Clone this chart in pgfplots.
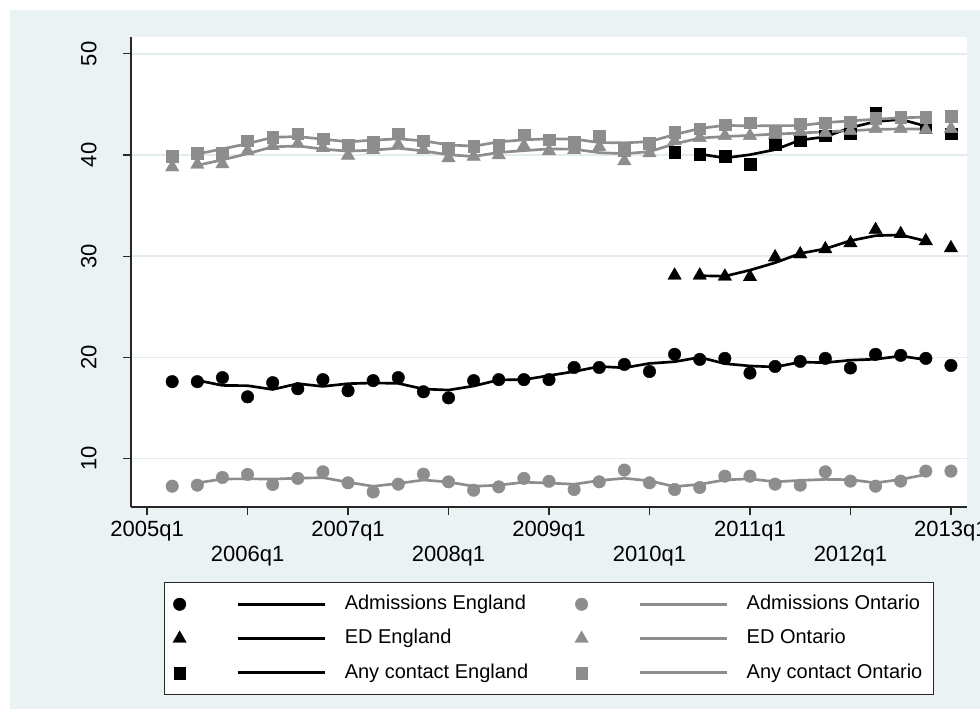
\documentclass[border=0pt]{standalone}
\usepackage{pgfplots}
\pgfplotsset{compat=1.18}
\usepackage{fontspec}
\setmainfont{Liberation Sans}
\definecolor{bgc}{RGB}{234,242,243}
\definecolor{gridc}{RGB}{226,237,239}
\definecolor{sgray}{RGB}{141,141,141}
\definecolor{axc}{RGB}{40,40,40}

% marker at 0, line 58px..145px to its right (1px = 0.75pt)
\pgfplotsset{
  leg/.style 2 args={legend image code/.code={%
    \draw[color=#1, line width=2.2pt] (43.5pt,0pt) -- (108.75pt,0pt);
    \draw[color=#1, fill=#1, line width=0.3pt] plot[only marks, #2] coordinates {(0pt,0pt)};
  }},
  circ/.style={only marks, mark=*, mark size=4.7pt, line width=0.3pt},
  tri/.style={only marks, mark=triangle*, mark size=5.8pt, line width=0.3pt},
  sq/.style={only marks, mark=square*, mark size=4.4pt, line width=0.3pt},
  ma/.style={no marks, line width=2pt},
}

\begin{document}
\begin{tikzpicture}
\useasboundingbox (0,0) rectangle (735pt,-539.25pt);
\fill[white] (0,0) rectangle (735pt,-539.25pt);
\fill[bgc] (7.5pt,-7.5pt) rectangle (735pt,-531.75pt);
\begin{axis}[
  at={(98.25pt,-380.25pt)}, anchor=south west,
  width=627pt, height=352.5pt, scale only axis,
  xmin=-0.64, xmax=32.64, ymin=5.21, ymax=51.66,
  axis background/.style={fill=white},
  axis x line*=bottom, axis y line*=left,
  axis line style={axc, line width=0.9pt, -},
  tick style={axc, line width=0.9pt},
  tick align=outside, major tick length=6pt,
  ymajorgrids, major grid style={gridc, line width=1.2pt},
  ytick={10,20,30,40,50},
  yticklabel style={rotate=90, anchor=base, inner sep=0pt,
    font=\fontsize{16.5}{19}\selectfont, /pgf/number format/assume math mode=true},
  yticklabel shift=20pt,
  xtick={0,8,16,24,32},
  xticklabels={2005q1,2007q1,2009q1,2011q1,2013q1},
  xticklabel style={anchor=base, inner sep=0pt, font=\fontsize{16.5}{19}\selectfont},
  xticklabel shift=16pt,
  extra x ticks={4,12,20,28},
  extra x tick labels={2006q1,2008q1,2010q1,2012q1},
  extra x tick style={xticklabel style={yshift=-18.75pt}},
  clip=false,
  legend columns=2,
  legend cell align=left,
  legend style={at={(0.5,-0.28)}, anchor=center,
    draw=axc, line width=0.8pt, fill=white,
    font=\fontsize{15}{18}\selectfont,
    inner xsep=6pt, inner ysep=7pt,
    row sep=7.75pt,
    nodes={inner sep=2pt, text height=11pt, text depth=3pt},
    /tikz/every odd column/.append style={column sep=12pt},
    /tikz/every even column/.append style={column sep=33pt}},
]

% legend entries in Stata's row order
\addlegendimage{leg={black}{mark=*, mark size=4.7pt}}
\addlegendentry{Admissions England}
\addlegendimage{leg={sgray}{mark=*, mark size=4.7pt}}
\addlegendentry{Admissions Ontario}
\addlegendimage{leg={black}{mark=triangle*, mark size=5.8pt}}
\addlegendentry{ED England}
\addlegendimage{leg={sgray}{mark=triangle*, mark size=5.8pt}}
\addlegendentry{ED Ontario}
\addlegendimage{leg={black}{mark=square*, mark size=4.4pt}}
\addlegendentry{Any contact England}
\addlegendimage{leg={sgray}{mark=square*, mark size=4.4pt}}
\addlegendentry{Any contact Ontario}

% Admissions England
\addplot[black, circ, forget plot] coordinates {
(1,17.6)(2,17.6)(3,18.0)(4,16.1)(5,17.5)(6,16.9)(7,17.8)(8,16.7)
(9,17.7)(10,18.0)(11,16.6)(12,16.0)(13,17.7)(14,17.8)(15,17.8)(16,17.8)
(17,19.0)(18,19.0)(19,19.3)(20,18.6)(21,20.3)(22,19.8)(23,19.9)(24,18.45)
(25,19.1)(26,19.6)(27,19.9)(28,18.95)(29,20.3)(30,20.2)(31,19.9)(32,19.2)};
\addplot[black, ma, forget plot] coordinates {
(2,17.73)(3,17.23)(4,17.2)(5,16.83)(6,17.4)(7,17.13)(8,17.4)(9,17.47)
(10,17.43)(11,16.87)(12,16.77)(13,17.17)(14,17.77)(15,17.8)(16,18.2)
(17,18.6)(18,19.1)(19,18.97)(20,19.4)(21,19.57)(22,20.0)(23,19.38)
(24,19.15)(25,19.05)(26,19.53)(27,19.48)(28,19.72)(29,19.82)(30,20.13)(31,19.77)};

% ED England
\addplot[black, tri, forget plot] coordinates {
(21,28.1)(22,28.1)(23,28.0)(24,27.95)(25,29.9)(26,30.2)
(27,30.7)(28,31.3)(29,32.6)(30,32.2)(31,31.5)(32,30.8)};
\addplot[black, ma, forget plot] coordinates {
(22,28.07)(23,28.02)(24,28.62)(25,29.35)(26,30.27)
(27,30.73)(28,31.53)(29,32.03)(30,32.1)(31,31.5)};

% Any contact England
\addplot[black, sq, forget plot] coordinates {
(21,40.3)(22,40.1)(23,39.9)(24,39.1)(25,41.1)(26,41.4)
(27,41.9)(28,42.1)(29,44.1)(30,43.7)(31,42.75)(32,42.1)};
\addplot[black, ma, forget plot] coordinates {
(22,40.1)(23,39.7)(24,40.03)(25,40.53)(26,41.47)
(27,41.8)(28,42.7)(29,43.3)(30,43.52)(31,42.85)};

% Admissions Ontario
\addplot[sgray, circ, forget plot] coordinates {
(1,7.27)(2,7.37)(3,8.13)(4,8.43)(5,7.44)(6,8.04)(7,8.69)(8,7.6)
(9,6.7)(10,7.47)(11,8.46)(12,7.7)(13,6.87)(14,7.2)(15,8.04)(16,7.75)
(17,6.94)(18,7.7)(19,8.86)(20,7.6)(21,6.94)(22,7.14)(23,8.26)(24,8.26)
(25,7.47)(26,7.37)(27,8.69)(28,7.77)(29,7.27)(30,7.77)(31,8.76)(32,8.76)};
\addplot[sgray, ma, forget plot] coordinates {
(2,7.59)(3,7.98)(4,8.0)(5,7.97)(6,8.06)(7,8.11)(8,7.66)(9,7.26)
(10,7.54)(11,7.88)(12,7.68)(13,7.26)(14,7.37)(15,7.66)(16,7.58)
(17,7.46)(18,7.83)(19,8.05)(20,7.8)(21,7.23)(22,7.45)(23,7.89)
(24,8.0)(25,7.7)(26,7.84)(27,7.94)(28,7.91)(29,7.6)(30,7.93)(31,8.43)};

% ED Ontario
\addplot[sgray, tri, forget plot] coordinates {
(1,38.8)(2,39.05)(3,39.1)(4,40.4)(5,40.9)(6,41.1)(7,40.7)(8,39.95)
(9,40.5)(10,41.0)(11,40.5)(12,39.7)(13,39.85)(14,40.0)(15,40.9)(16,40.4)
(17,40.5)(18,40.8)(19,39.4)(20,40.2)(21,41.4)(22,41.7)(23,41.9)(24,41.9)
(25,42.0)(26,42.3)(27,42.2)(28,42.4)(29,42.6)(30,42.6)(31,42.5)(32,42.6)};
\addplot[sgray, ma, forget plot] coordinates {
(2,38.98)(3,39.52)(4,40.13)(5,40.8)(6,40.9)(7,40.58)(8,40.38)(9,40.48)
(10,40.67)(11,40.4)(12,40.02)(13,39.85)(14,40.25)(15,40.43)(16,40.6)
(17,40.57)(18,40.23)(19,40.13)(20,40.33)(21,41.1)(22,41.67)(23,41.83)
(24,41.93)(25,42.07)(26,42.17)(27,42.3)(28,42.4)(29,42.53)(30,42.57)(31,42.57)};

% Any contact Ontario
\addplot[sgray, sq, forget plot] coordinates {
(1,39.9)(2,40.2)(3,40.2)(4,41.4)(5,41.75)(6,42.1)(7,41.6)(8,41.0)
(9,41.3)(10,42.1)(11,41.4)(12,40.7)(13,40.9)(14,41.0)(15,42.0)(16,41.5)
(17,41.3)(18,41.9)(19,40.5)(20,41.2)(21,42.25)(22,42.6)(23,43.0)(24,43.2)
(25,42.4)(26,43.1)(27,43.2)(28,43.3)(29,43.6)(30,43.7)(31,43.7)(32,43.85)};
\addplot[sgray, ma, forget plot] coordinates {
(2,40.1)(3,40.6)(4,41.12)(5,41.75)(6,41.82)(7,41.57)(8,41.3)(9,41.47)
(10,41.6)(11,41.4)(12,41.0)(13,40.87)(14,41.3)(15,41.5)(16,41.6)
(17,41.57)(18,41.23)(19,41.2)(20,41.32)(21,42.02)(22,42.62)(23,42.93)
(24,42.87)(25,42.9)(26,42.9)(27,43.2)(28,43.37)(29,43.53)(30,43.67)(31,43.75)};

\end{axis}
\end{tikzpicture}
\end{document}
